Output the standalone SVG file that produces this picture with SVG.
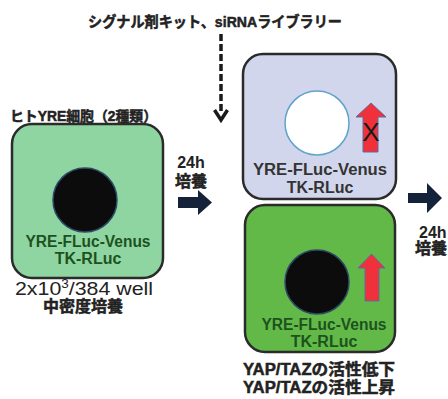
<svg xmlns="http://www.w3.org/2000/svg" width="448" height="399" viewBox="0 0 448 399">
<style>
.t{font-family:"Liberation Sans","Noto Sans CJK JP",sans-serif;font-weight:bold;fill:#222}
.cj{stroke:#222;stroke-width:0.5}
.box{stroke:#2b2b2b;stroke-width:2.5}
.lbl{font-family:"Liberation Sans","Noto Sans CJK JP",sans-serif;font-weight:bold;font-size:16px;text-anchor:middle}
.blk{fill:#0c0c0c;stroke:#2d4a66;stroke-width:1.5}
.nav{fill:#14233a}
.red{fill:#f0303a;stroke:#5a6fa0;stroke-width:1}
</style>
<rect width="448" height="399" fill="#ffffff"/>
<text class="t cj" x="215" y="27" font-size="15" text-anchor="middle" textLength="254" lengthAdjust="spacingAndGlyphs">シグナル剤キット、siRNAライブラリー</text>
<g id="connectors">
<line x1="221" y1="34" x2="221" y2="112" stroke="#1a1a1a" stroke-width="3.5" stroke-dasharray="7,3"/>
<polyline points="214.5,110 221,120 227.5,110" fill="none" stroke="#1a1a1a" stroke-width="3.5"/>
<polygon class="nav" points="178,197 198,197 198,190 212,202.5 198,215 198,208 178,208"/>
<polygon class="nav" points="408,193 427,193 427,183 442,198 427,213 427,203 408,203"/>
</g>
<text class="t cj" x="10" y="121" font-size="14" textLength="147" lengthAdjust="spacingAndGlyphs">ヒトYRE細胞（2種類）</text>
<g id="cell-left">
<rect class="box" x="12" y="124" width="151" height="154" rx="20" fill="#8fd5a1"/>
<circle class="blk" cx="85" cy="200" r="32"/>
<text class="lbl" x="88" y="247" fill="#1d521f" textLength="125" lengthAdjust="spacingAndGlyphs">YRE-FLuc-Venus</text>
<text class="lbl" x="88" y="264" fill="#1d521f">TK-RLuc</text>
</g>
<text x="84" y="295" font-family="Liberation Sans, Noto Sans CJK JP, sans-serif" font-size="19" fill="#222" text-anchor="middle" textLength="138" lengthAdjust="spacingAndGlyphs">2x10<tspan font-size="12" dy="-7">3</tspan><tspan dy="7">/384 well</tspan></text>
<text class="t cj" x="83" y="312" font-size="16" text-anchor="middle">中密度培養</text>
<text class="t" x="191" y="168" font-size="16" text-anchor="middle">24h</text>
<text class="t cj" x="191" y="187" font-size="16" text-anchor="middle">培養</text>
<g id="cell-top">
<rect class="box" x="243" y="54" width="153" height="145" rx="20" fill="#d2d6ec"/>
<circle cx="317" cy="123" r="32" fill="#ffffff" stroke="#5fa3c8" stroke-width="1.5"/>
<polygon class="red" points="363,117 356,117 371,103 386,117 378,117 378,152 363,152"/>
<text x="371" y="141" font-family="Liberation Sans, sans-serif" font-size="26" fill="#1a1a1a" text-anchor="middle">X</text>
<text class="lbl" x="320" y="175" fill="#333" textLength="134" lengthAdjust="spacingAndGlyphs">YRE-FLuc-Venus</text>
<text class="lbl" x="320" y="193" fill="#333">TK-RLuc</text>
</g>
<g id="cell-bottom">
<rect class="box" x="245" y="205" width="150" height="147" rx="20" fill="#62b948"/>
<circle class="blk" cx="317" cy="282" r="32"/>
<polygon class="red" points="365,268 358,268 371.5,254 385,268 379,268 379,301 365,301"/>
<text class="lbl" x="324" y="330" fill="#1d521f" textLength="125" lengthAdjust="spacingAndGlyphs">YRE-FLuc-Venus</text>
<text class="lbl" x="324" y="347" fill="#1d521f">TK-RLuc</text>
</g>
<text class="t cj" x="243" y="375" font-size="16" fill="#333" textLength="152" lengthAdjust="spacingAndGlyphs">YAP/TAZの活性低下</text>
<text class="t cj" x="243" y="393" font-size="16" fill="#333" textLength="152" lengthAdjust="spacingAndGlyphs">YAP/TAZの活性上昇</text>
<text class="t" x="419" y="238" font-size="16">24h</text>
<text class="t cj" x="415" y="254" font-size="16">培養</text>
</svg>
